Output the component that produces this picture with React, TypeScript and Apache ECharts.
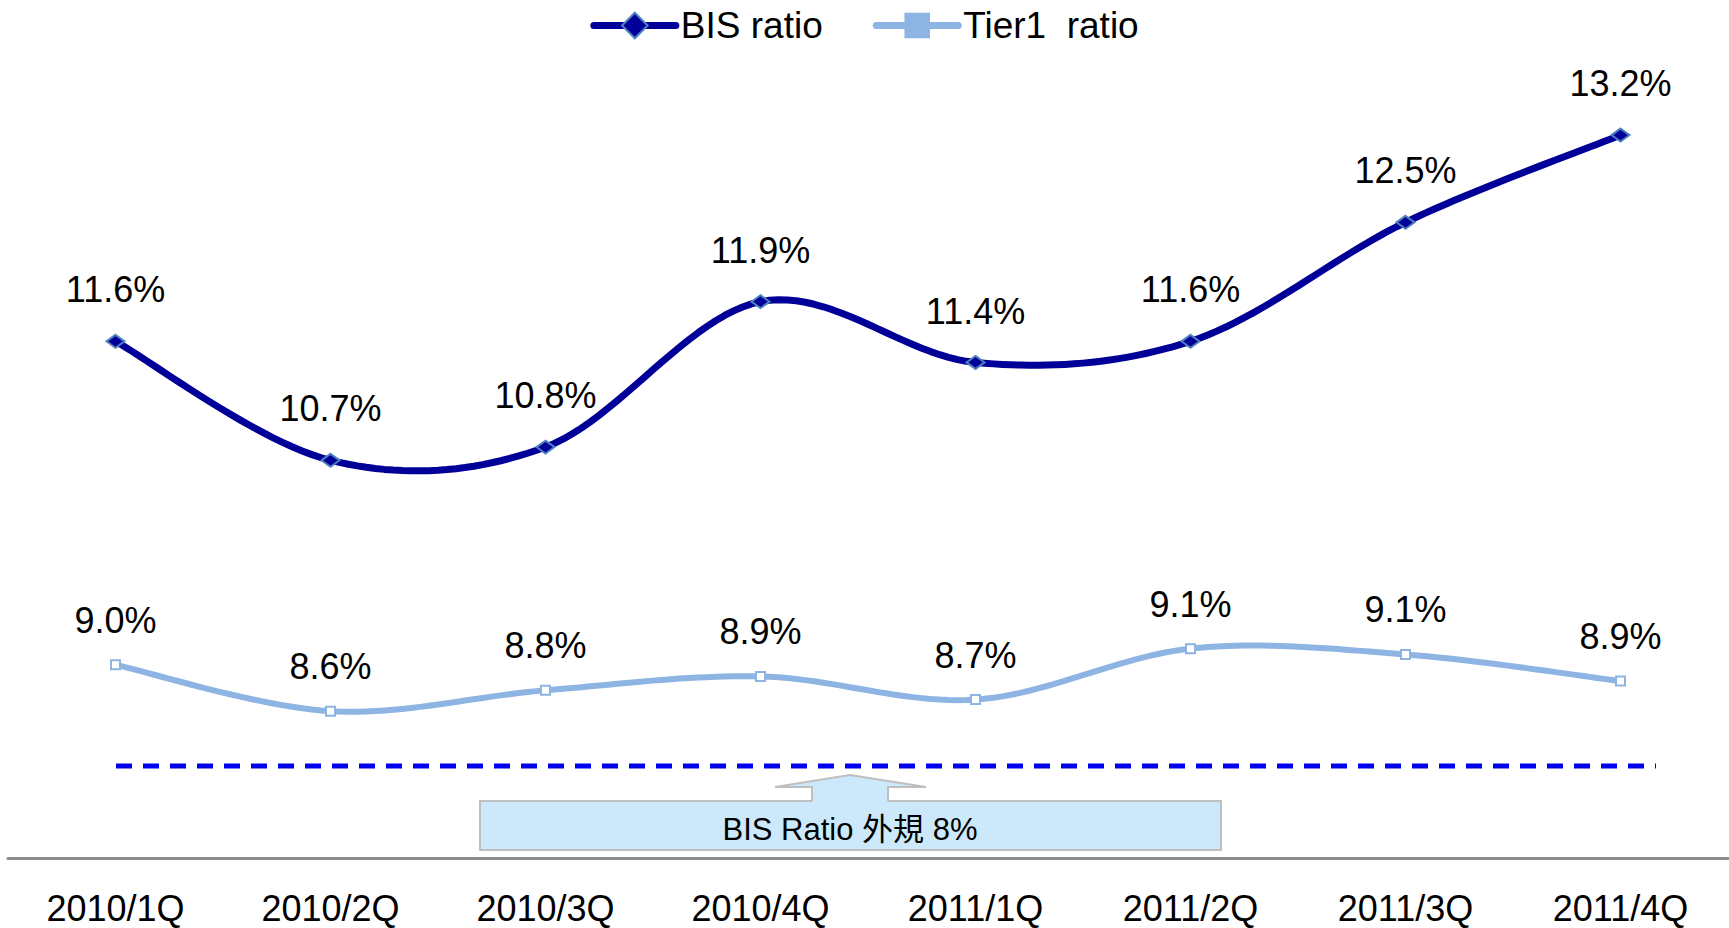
import React, { useEffect, useRef } from "react";
import * as echarts from "echarts";

const categories = ["2010/1Q", "2010/2Q", "2010/3Q", "2010/4Q", "2011/1Q", "2011/2Q", "2011/3Q", "2011/4Q"];
const bisRatio = [11.6, 10.7, 10.8, 11.9, 11.44, 11.6, 12.5, 13.16];
const tier1Ratio = [9.0, 8.6, 8.78, 8.9, 8.7, 9.14, 9.09, 8.86];
const seriesNames = ["BIS ratio", "Tier1  ratio"];
const noteText = "BIS Ratio 外規 8%";

const FONT = "'Liberation Sans', Arial, 'Noto Sans CJK TC', sans-serif";
const BIS_COLOR = "#000099";
const TIER_COLOR = "#8DB4E2";

// Catmull-Rom style smoothing (like a spreadsheet's "smoothed line") in pixel space
function smoothPoints(pts: number[][]): number[][] {
  const out: number[][] = [];
  const n = pts.length;
  for (let i = 0; i < n - 1; i++) {
    const p0 = pts[Math.max(0, i - 1)];
    const p1 = pts[i];
    const p2 = pts[i + 1];
    const p3 = pts[Math.min(n - 1, i + 2)];
    const c1 = [p1[0] + (p2[0] - p0[0]) / 6, p1[1] + (p2[1] - p0[1]) / 6];
    const c2 = [p2[0] - (p3[0] - p1[0]) / 6, p2[1] - (p3[1] - p1[1]) / 6];
    const steps = 24;
    for (let s = i === 0 ? 0 : 1; s <= steps; s++) {
      const t = s / steps;
      const mt = 1 - t;
      const a = mt * mt * mt, b = 3 * mt * mt * t, c = 3 * mt * t * t, d = t * t * t;
      out.push([
        a * p1[0] + b * c1[0] + c * c2[0] + d * p2[0],
        a * p1[1] + b * c1[1] + c * c2[1] + d * p2[1],
      ]);
    }
  }
  return out;
}

function curveSeries(values: number[], yAxisIndex: number, color: string, width: number, z: number) {
  return {
    type: "custom",
    coordinateSystem: "cartesian2d",
    yAxisIndex,
    data: [[0, values[0]]],
    clip: false,
    silent: true,
    z,
    renderItem: (_params: any, api: any) => {
      const pts = values.map((v, i) => api.coord([i, v]));
      return {
        type: "polyline",
        shape: { points: smoothPoints(pts) },
        style: { stroke: color, lineWidth: width, fill: "none", lineJoin: "round", lineCap: "round" },
      };
    },
  };
}

export default function App() {
  const ref = useRef<HTMLDivElement>(null);
  useEffect(() => {
    if (!ref.current) return;
    const chart = echarts.init(ref.current, null, { renderer: "svg" });
    const fmt = (p: any) => (Math.round(p.value * 10) / 10).toFixed(1) + "%";
    const labelStyle = {
      show: true,
      position: "top",
      formatter: fmt,
      fontSize: 36,
      lineHeight: 36,
      color: "#000",
      fontFamily: FONT,
    };
    chart.setOption({
      animation: false,
      backgroundColor: "#ffffff",
      textStyle: { fontFamily: FONT },
      legend: {
        top: 2,
        left: "center",
        itemWidth: 82,
        itemHeight: 32,
        itemGap: 50,
        textStyle: { fontSize: 37, color: "#000", fontFamily: FONT },
        data: [
          {
            name: seriesNames[0],
            itemStyle: { color: BIS_COLOR, borderColor: "#4F81BD", borderWidth: 2 },
            lineStyle: { color: BIS_COLOR, width: 7, opacity: 1, cap: "round" },
          },
          {
            name: seriesNames[1],
            itemStyle: { color: TIER_COLOR, borderColor: TIER_COLOR, borderWidth: 0 },
            lineStyle: { color: TIER_COLOR, width: 7, opacity: 1, cap: "round" },
          },
        ],
      },
      grid: { left: 8, width: 1720, top: 24, height: 834 },
      xAxis: {
        type: "category",
        data: categories,
        boundaryGap: true,
        axisLine: { show: true, lineStyle: { color: "#8c8c8c", width: 3 } },
        axisTick: { show: false },
        axisLabel: { fontSize: 36, color: "#000", margin: 34, lineHeight: 32, fontFamily: FONT },
        splitLine: { show: false },
      },
      yAxis: [
        { type: "value", min: 7.692, max: 14.0, show: false, splitLine: { show: false } },
        { type: "value", min: 7.332, max: 14.534, show: false, splitLine: { show: false } },
      ],
      series: [
        curveSeries(bisRatio, 0, BIS_COLOR, 7, 2),
        curveSeries(tier1Ratio, 1, TIER_COLOR, 6, 1),
        {
          name: seriesNames[0],
          type: "line",
          data: bisRatio,
          yAxisIndex: 0,
          symbol: "diamond",
          symbolSize: [18, 13],
          lineStyle: { color: BIS_COLOR, width: 7, opacity: 0 },
          itemStyle: { color: BIS_COLOR, borderColor: "#4F81BD", borderWidth: 2 },
          label: { ...labelStyle, distance: 26 },
          z: 4,
        },
        {
          name: seriesNames[1],
          type: "line",
          data: tier1Ratio,
          yAxisIndex: 1,
          symbol: "rect",
          symbolSize: 9,
          lineStyle: { color: TIER_COLOR, width: 6, opacity: 0 },
          itemStyle: { color: "#ffffff", borderColor: TIER_COLOR, borderWidth: 2 },
          label: { ...labelStyle, distance: 21 },
          z: 3,
        },
      ],
      graphic: [
        {
          type: "line",
          shape: { x1: 116, y1: 766, x2: 1656, y2: 766 },
          style: { stroke: "#0000F0", lineWidth: 5, lineDash: [16, 11] },
          z: 1,
        },
        {
          type: "rect",
          shape: { x: 480, y: 801, width: 741, height: 49 },
          style: { fill: "#CCE9FB", stroke: "#BFBFBF", lineWidth: 2 },
          z: 5,
        },
        {
          type: "polygon",
          shape: {
            points: [
              [850, 775],
              [926, 787],
              [888, 787],
              [888, 802],
              [812, 802],
              [812, 787],
              [775, 787],
            ],
          },
          style: { fill: "#CCE9FB", stroke: "none" },
          z: 6,
        },
        {
          type: "polyline",
          shape: {
            points: [
              [812, 801],
              [812, 787],
              [775, 787],
              [850, 775],
              [926, 787],
              [888, 787],
              [888, 801],
            ],
          },
          style: { fill: "none", stroke: "#BFBFBF", lineWidth: 2 },
          z: 7,
        },
        {
          type: "text",
          x: 850,
          y: 829,
          style: {
            text: noteText,
            fontSize: 31,
            fontFamily: FONT,
            fill: "#000",
            align: "center",
            verticalAlign: "middle",
          },
          z: 8,
        },
      ],
    });
    return () => chart.dispose();
  }, []);
  return (
    <div
      ref={ref}
      style={{ position: "fixed", left: 0, top: 0, width: 1729, height: 928, background: "#fff" }}
    />
  );
}
